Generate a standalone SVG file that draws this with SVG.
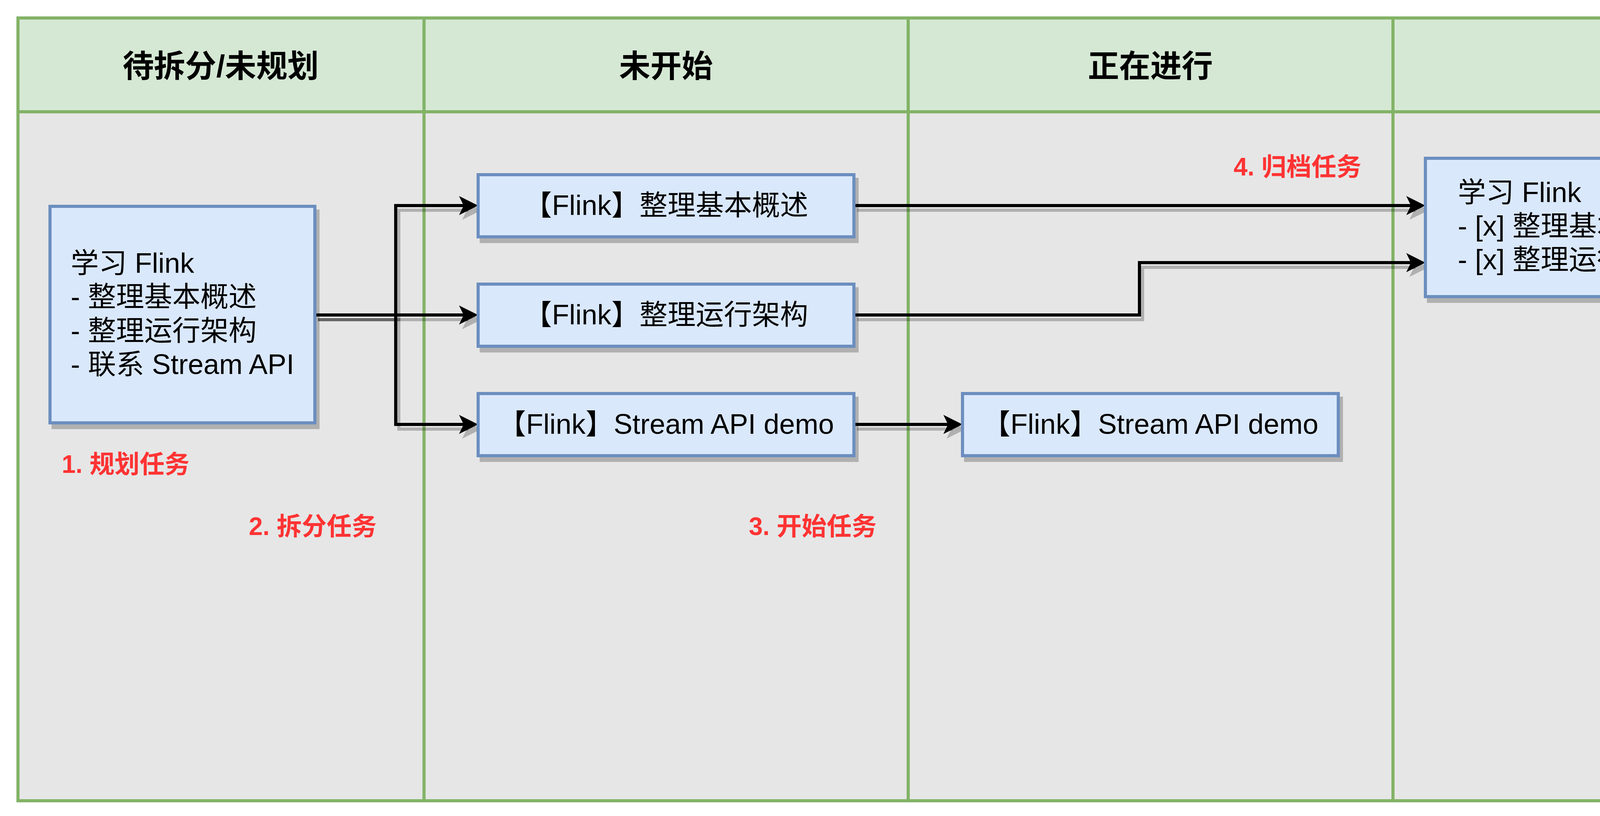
<svg xmlns="http://www.w3.org/2000/svg" width="4968" height="2088" viewBox="0 0 4968 2088">
<style>
text{font-family:"Liberation Sans","Noto Sans CJK SC",sans-serif;fill:#000}
.hd{font-size:80px;font-weight:bold;text-anchor:middle}
.t{font-size:72px}
.c{text-anchor:middle}
.red{font-size:64px;font-weight:bold;fill:#ff3333}
.box{fill:#dae8fc;stroke:#6c8ebf;stroke-width:8}
.sh{fill:#000;fill-opacity:0.235}
.edge{fill:none;stroke:#000;stroke-width:8}
.esh{fill:none;stroke:#000;stroke-opacity:0.235;stroke-width:8}
.grid{stroke:#82b366;stroke-width:8;fill:none}
</style>
<defs>
<marker id="arr" markerUnits="userSpaceOnUse" markerWidth="49" markerHeight="49" refX="16" refY="24.5" orient="auto" overflow="visible"><path d="M0,0 L49,24.5 L0,49 L12,24.5 Z" fill="#000"/></marker>
<marker id="arrS" markerUnits="userSpaceOnUse" markerWidth="49" markerHeight="49" refX="16" refY="24.5" orient="auto" overflow="visible"><path d="M0,0 L49,24.5 L0,49 L12,24.5 Z" fill="#000" fill-opacity="0.235"/></marker>
</defs>
<rect width="4968" height="2088" fill="#fff"/>
<g id="table">
<rect x="46" y="46" width="4879" height="2003" fill="#e6e6e6"/>
<rect x="46" y="46" width="4879" height="240" fill="#d5e8d4"/>
<path class="grid" d="M46,286 H4925 M1085.5,46 V2049 M2325,46 V2049 M3566,46 V2049"/>
<rect x="46" y="46" width="4879" height="2003" class="grid"/>
<text class="hd" x="565" y="197">待拆分/未规划</text>
<text class="hd" x="1705" y="197">未开始</text>
<text class="hd" x="2945" y="197">正在进行</text>
<text class="hd" x="4245" y="197">已完成</text>
</g>
<g id="connectors">
<g transform="translate(8,12)">
<path class="esh" marker-end="url(#arrS)" d="M806,806 H1013 V526 H1191"/>
<path class="esh" marker-end="url(#arrS)" d="M806,806 H1191"/>
<path class="esh" marker-end="url(#arrS)" d="M806,806 H1013 V1086 H1191"/>
<path class="esh" marker-end="url(#arrS)" d="M2186,526 H3616"/>
<path class="esh" marker-end="url(#arrS)" d="M2186,806 H2917 V672 H3616"/>
<path class="esh" marker-end="url(#arrS)" d="M2186,1086 H2431"/>
</g>
<path class="edge" marker-end="url(#arr)" d="M806,806 H1013 V526 H1191"/>
<path class="edge" marker-end="url(#arr)" d="M806,806 H1191"/>
<path class="edge" marker-end="url(#arr)" d="M806,806 H1013 V1086 H1191"/>
<path class="edge" marker-end="url(#arr)" d="M2186,526 H3616"/>
<path class="edge" marker-end="url(#arr)" d="M2186,806 H2917 V672 H3616"/>
<path class="edge" marker-end="url(#arr)" d="M2186,1086 H2431"/>
</g>
<g id="node-plan">
<rect class="sh" x="132" y="536" width="686" height="562"/>
<rect class="box" x="128" y="528" width="678" height="554"/>
<text class="t" x="181"><tspan x="181" y="698">学习 Flink</tspan><tspan x="181" y="784">- 整理基本概述</tspan><tspan x="181" y="871">- 整理运行架构</tspan><tspan x="181" y="957">- 联系 Stream API</tspan></text>
</g>
<g id="node-todo1">
<rect class="sh" x="1228" y="455" width="970" height="167"/>
<rect class="box" x="1224" y="447" width="962" height="159"/>
<text class="t c" x="1705" y="550">【Flink】整理基本概述</text>
</g>
<g id="node-todo2">
<rect class="sh" x="1228" y="735" width="970" height="167"/>
<rect class="box" x="1224" y="727" width="962" height="159"/>
<text class="t c" x="1705" y="830">【Flink】整理运行架构</text>
</g>
<g id="node-todo3">
<rect class="sh" x="1228" y="1015" width="970" height="167"/>
<rect class="box" x="1224" y="1007" width="962" height="159"/>
<text class="t c" x="1705" y="1110">【Flink】Stream API demo</text>
</g>
<g id="node-doing">
<rect class="sh" x="2468" y="1015" width="970" height="167"/>
<rect class="box" x="2464" y="1007" width="962" height="159"/>
<text class="t c" x="2945" y="1110">【Flink】Stream API demo</text>
</g>
<g id="node-done">
<rect class="sh" x="3653" y="413" width="1242" height="362"/>
<rect class="box" x="3649" y="405" width="1234" height="354"/>
<text class="t" x="3732"><tspan x="3732" y="517">学习 Flink</tspan><tspan x="3732" y="603">- [x] 整理基本概述。output: 笔记1</tspan><tspan x="3732" y="689">- [x] 整理运行架构。output: 笔记2</tspan></text>
</g>
<g id="label-1"><text class="red" x="158" y="1210">1. 规划任务</text></g>
<g id="label-2"><text class="red" x="637" y="1369">2. 拆分任务</text></g>
<g id="label-3"><text class="red" x="1917" y="1369">3. 开始任务</text></g>
<g id="label-4"><text class="red" x="3158" y="449">4. 归档任务</text></g>
</svg>
